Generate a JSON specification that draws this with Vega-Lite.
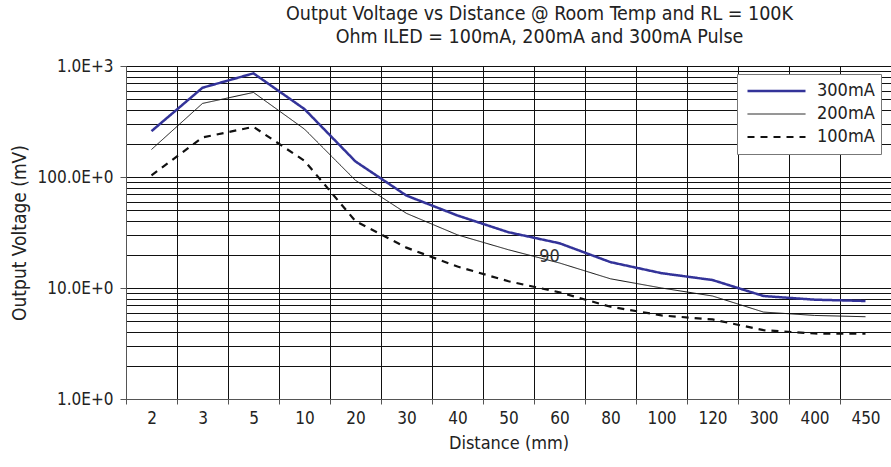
{
  "$schema": "https://vega.github.io/schema/vega-lite/v6.json",
  "width": 765,
  "height": 333,
  "autosize": {"type": "none"},
  "padding": {"left": 126, "top": 66, "right": 0, "bottom": 68},
  "background": "white",
  "config": {
    "font": "DejaVu Sans Condensed, Liberation Sans, sans-serif",
    "view": {"stroke": "#888", "strokeWidth": 1},
    "legend": {
      "orient": "none",
      "legendX": 611,
      "legendY": 8,
      "fillColor": "white",
      "strokeColor": "#777",
      "padding": 6,
      "symbolOffset": 3,
      "symbolType": "stroke",
      "symbolSize": 3364,
      "clipHeight": 22,
      "rowPadding": 1,
      "labelFontSize": 18,
      "labelOffset": 10,
      "labelColor": "#222",
      "labelFont": "DejaVu Sans Condensed, Liberation Sans, sans-serif"
    }
  },
  "title": {
    "text": ["Output Voltage vs Distance @ Room Temp and RL = 100K", "Ohm ILED = 100mA, 200mA and 300mA Pulse"],
    "anchor": "middle",
    "dx": 31,
    "fontSize": 19.5,
    "fontWeight": "normal",
    "lineHeight": 23,
    "offset": 10,
    "color": "#222"
  },
  "datasets": {
    "curves": [
      {"distance": "2", "voltage": 259, "series": "300mA"},
      {"distance": "3", "voltage": 637, "series": "300mA"},
      {"distance": "5", "voltage": 859, "series": "300mA"},
      {"distance": "10", "voltage": 409, "series": "300mA"},
      {"distance": "20", "voltage": 138, "series": "300mA"},
      {"distance": "30", "voltage": 68, "series": "300mA"},
      {"distance": "40", "voltage": 45, "series": "300mA"},
      {"distance": "50", "voltage": 31.8, "series": "300mA"},
      {"distance": "60", "voltage": 25.3, "series": "300mA"},
      {"distance": "80", "voltage": 17.1, "series": "300mA"},
      {"distance": "100", "voltage": 13.6, "series": "300mA"},
      {"distance": "120", "voltage": 11.8, "series": "300mA"},
      {"distance": "300", "voltage": 8.47, "series": "300mA"},
      {"distance": "400", "voltage": 7.85, "series": "300mA"},
      {"distance": "450", "voltage": 7.64, "series": "300mA"},
      {"distance": "2", "voltage": 177, "series": "200mA"},
      {"distance": "3", "voltage": 460, "series": "200mA"},
      {"distance": "5", "voltage": 578, "series": "200mA"},
      {"distance": "10", "voltage": 270, "series": "200mA"},
      {"distance": "20", "voltage": 93.3, "series": "200mA"},
      {"distance": "30", "voltage": 47, "series": "200mA"},
      {"distance": "40", "voltage": 30.1, "series": "200mA"},
      {"distance": "50", "voltage": 22.1, "series": "200mA"},
      {"distance": "60", "voltage": 16.8, "series": "200mA"},
      {"distance": "80", "voltage": 12.1, "series": "200mA"},
      {"distance": "100", "voltage": 10.0, "series": "200mA"},
      {"distance": "120", "voltage": 8.47, "series": "200mA"},
      {"distance": "300", "voltage": 6.07, "series": "200mA"},
      {"distance": "400", "voltage": 5.66, "series": "200mA"},
      {"distance": "450", "voltage": 5.51, "series": "200mA"},
      {"distance": "2", "voltage": 103.5, "series": "100mA"},
      {"distance": "3", "voltage": 227, "series": "100mA"},
      {"distance": "5", "voltage": 283, "series": "100mA"},
      {"distance": "10", "voltage": 140, "series": "100mA"},
      {"distance": "20", "voltage": 40, "series": "100mA"},
      {"distance": "30", "voltage": 23.1, "series": "100mA"},
      {"distance": "40", "voltage": 15.6, "series": "100mA"},
      {"distance": "50", "voltage": 11.5, "series": "100mA"},
      {"distance": "60", "voltage": 9.14, "series": "100mA"},
      {"distance": "80", "voltage": 6.78, "series": "100mA"},
      {"distance": "100", "voltage": 5.66, "series": "100mA"},
      {"distance": "120", "voltage": 5.21, "series": "100mA"},
      {"distance": "300", "voltage": 4.17, "series": "100mA"},
      {"distance": "400", "voltage": 3.89, "series": "100mA"},
      {"distance": "450", "voltage": 3.87, "series": "100mA"}
    ],
    "note": [
      {"distance": "60", "voltage": 19.2, "label": "90"}
    ]
  },
  "layer": [
    {
      "data": {"name": "curves"},
      "mark": {"type": "line", "strokeCap": "butt", "strokeJoin": "miter"},
      "encoding": {
        "x": {
          "field": "distance",
          "type": "ordinal",
          "bandPosition": 0.5,
          "title": "Distance (mm)",
          "scale": {"type": "band", "domain": ["2", "3", "5", "10", "20", "30", "40", "50", "60", "80", "100", "120", "300", "400", "450"], "paddingInner": 0, "paddingOuter": 0},
          "axis": {
            "labelAngle": 0,
            "tickBand": "extent",
            "grid": true,
            "gridColor": "#111",
            "gridWidth": 1,
            "domainColor": "#555",
            "tickColor": "#555",
            "tickSize": 5,
            "labelPadding": 6,
            "labelFontSize": 17,
            "labelColor": "#222",
            "titleFontSize": 18,
            "titleFontWeight": "normal",
            "titleColor": "#222",
            "titlePadding": 8
          }
        },
        "y": {
          "field": "voltage",
          "type": "quantitative",
          "title": "Output Voltage (mV)",
          "scale": {"type": "log", "domain": [1, 1000], "nice": false},
          "axis": {
            "values": [1, 2, 3, 4, 5, 6, 7, 8, 9, 10, 20, 30, 40, 50, 60, 70, 80, 90, 100, 200, 300, 400, 500, 600, 700, 800, 900, 1000],
            "labelExpr": "datum.value == 1000 ? '1.0E+3' : datum.value == 100 ? '100.0E+0' : datum.value == 10 ? '10.0E+0' : datum.value == 1 ? '1.0E+0' : ''",
            "grid": true,
            "gridColor": "#111",
            "gridWidth": 1,
            "domainColor": "#555",
            "tickColor": "#555",
            "tickSize": 6,
            "tickOpacity": {"condition": {"test": "indexof([1, 10, 100, 1000], datum.value) >= 0", "value": 1}, "value": 0},
            "labelPadding": 7,
            "labelFontSize": 17,
            "labelColor": "#222",
            "labelOverlap": false,
            "titleFontSize": 19,
            "titleFontWeight": "normal",
            "titleColor": "#222",
            "titlePadding": 8
          }
        },
        "color": {
          "field": "series",
          "type": "nominal",
          "scale": {"domain": ["300mA", "200mA", "100mA"], "range": ["#333399", "#111111", "#111111"]},
          "legend": {"title": null}
        },
        "strokeDash": {
          "field": "series",
          "type": "nominal",
          "scale": {"domain": ["300mA", "200mA", "100mA"], "range": [[1, 0], [1, 0], [7, 6]]},
          "legend": {"title": null}
        },
        "strokeWidth": {
          "field": "series",
          "type": "nominal",
          "scale": {"type": "ordinal", "domain": ["300mA", "200mA", "100mA"], "range": [2.5, 1, 2.2]},
          "legend": {"title": null}
        }
      }
    },
    {
      "data": {"name": "note"},
      "mark": {"type": "text", "dx": -10, "fontSize": 18, "color": "#333"},
      "encoding": {
        "x": {"field": "distance", "type": "ordinal", "bandPosition": 0.5},
        "y": {"field": "voltage", "type": "quantitative"},
        "text": {"field": "label", "type": "nominal"}
      }
    }
  ]
}
